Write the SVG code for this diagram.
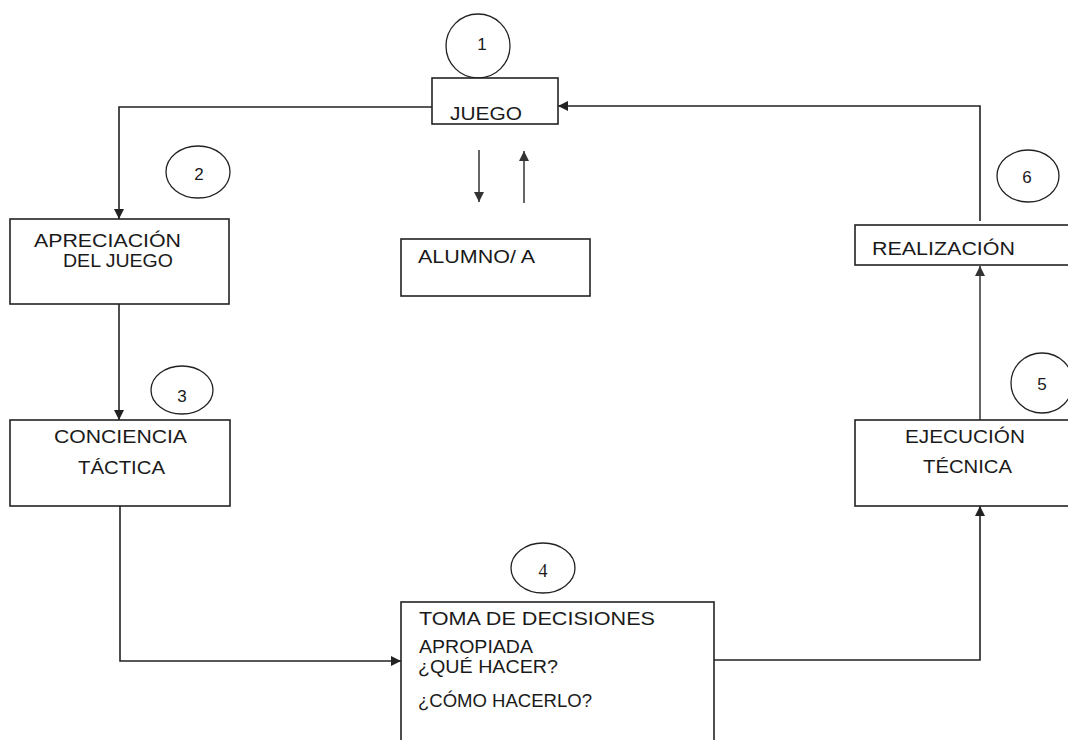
<svg xmlns="http://www.w3.org/2000/svg" width="1068" height="740" viewBox="0 0 1068 740">
<style>
.box{fill:#fff;stroke:#222;stroke-width:1.6}
.circ{fill:#fff;stroke:#222;stroke-width:1.3}
.t{font-family:"Liberation Sans",Arial,sans-serif;font-size:18px;fill:#1a1a1a}
.n{font-family:"Liberation Sans",Arial,sans-serif;font-size:17px;fill:#1a1a1a;text-anchor:middle}
.ns{font-family:"Liberation Serif","Times New Roman",serif;font-size:18px;fill:#1a1a1a;text-anchor:middle}
.c{fill:none;stroke:#222;stroke-width:1.6}
.g{fill:none;stroke:#666;stroke-width:2}
</style>
<defs>
<marker id="ah" viewBox="0 0 10 10" refX="10" refY="5" markerWidth="10" markerHeight="10" markerUnits="userSpaceOnUse" orient="auto"><path d="M0,0 L10,5 L0,10 z" fill="#222"/></marker>
<marker id="ahg" viewBox="0 0 10 10" refX="10" refY="5" markerWidth="10" markerHeight="10" markerUnits="userSpaceOnUse" orient="auto"><path d="M0,0 L10,5 L0,10 z" fill="#333"/></marker>
</defs>
<rect width="1068" height="740" fill="#fff"/>
<g id="connectors">
<path class="c" d="M432,107 H119 V219" marker-end="url(#ah)"/>
<path class="c" d="M119,304 V420" marker-end="url(#ah)"/>
<path class="c" d="M120,506 V661 H401" marker-end="url(#ah)"/>
<path class="c" d="M714,660 H980 V506" marker-end="url(#ah)"/>
<path class="g" d="M980,420 V266" marker-end="url(#ahg)"/>
<path class="c" d="M980,221 V106 H558" marker-end="url(#ah)"/>
<path class="g" d="M479,150 V202" marker-end="url(#ahg)"/>
<path class="g" d="M524,203 V151" marker-end="url(#ahg)"/>
</g>
<g id="c1"><circle class="circ" cx="478" cy="46" r="32"/><text class="n" x="482" y="50">1</text></g>
<g id="juego"><rect class="box" x="432" y="78" width="126" height="46"/><text class="t" x="450" y="120" textLength="72" lengthAdjust="spacingAndGlyphs">JUEGO</text></g>
<g id="c2"><ellipse class="circ" cx="198" cy="172" rx="32" ry="26"/><text class="n" x="199" y="180">2</text></g>
<g id="apreciacion"><rect class="box" x="10" y="219" width="219" height="85"/><text class="t" x="34" y="247" textLength="147" lengthAdjust="spacingAndGlyphs">APRECIACIÓN</text><text class="t" x="63" y="267" textLength="110" lengthAdjust="spacingAndGlyphs">DEL JUEGO</text></g>
<g id="c3"><ellipse class="circ" cx="182" cy="390" rx="31" ry="24"/><text class="n" x="182" y="402">3</text></g>
<g id="conciencia"><rect class="box" x="10" y="420" width="220" height="86"/><text class="t" x="54" y="443" textLength="133" lengthAdjust="spacingAndGlyphs">CONCIENCIA</text><text class="t" x="78" y="474" textLength="87" lengthAdjust="spacingAndGlyphs">TÁCTICA</text></g>
<g id="c4"><ellipse class="circ" cx="543" cy="568" rx="32" ry="25"/><text class="ns" x="543" y="577">4</text></g>
<g id="toma"><rect class="box" x="401" y="602" width="313" height="150"/>
<text class="t" x="419" y="625" textLength="236" lengthAdjust="spacingAndGlyphs">TOMA DE DECISIONES</text>
<text class="t" x="419" y="653" textLength="114" lengthAdjust="spacingAndGlyphs">APROPIADA</text>
<text class="t" x="418" y="673" textLength="140" lengthAdjust="spacingAndGlyphs">¿QUÉ HACER?</text>
<text class="t" x="418" y="707" textLength="174" lengthAdjust="spacingAndGlyphs">¿CÓMO HACERLO?</text></g>
<g id="c5"><ellipse class="circ" cx="1042" cy="383" rx="31" ry="30"/><text class="n" x="1042" y="390">5</text></g>
<g id="ejecucion"><rect class="box" x="855" y="420" width="220" height="86"/><text class="t" x="905" y="443" textLength="120" lengthAdjust="spacingAndGlyphs">EJECUCIÓN</text><text class="t" x="923" y="473" textLength="89" lengthAdjust="spacingAndGlyphs">TÉCNICA</text></g>
<g id="c6"><ellipse class="circ" cx="1028" cy="176" rx="31" ry="26"/><text class="n" x="1027" y="183">6</text></g>
<g id="realizacion"><rect class="box" x="855" y="225" width="220" height="40"/><text class="t" x="872" y="255" textLength="143" lengthAdjust="spacingAndGlyphs">REALIZACIÓN</text></g>
<g id="alumno"><rect class="box" x="401" y="239" width="189" height="57"/><text class="t" x="418" y="263" textLength="117" lengthAdjust="spacingAndGlyphs">ALUMNO/ A</text></g>
</svg>
